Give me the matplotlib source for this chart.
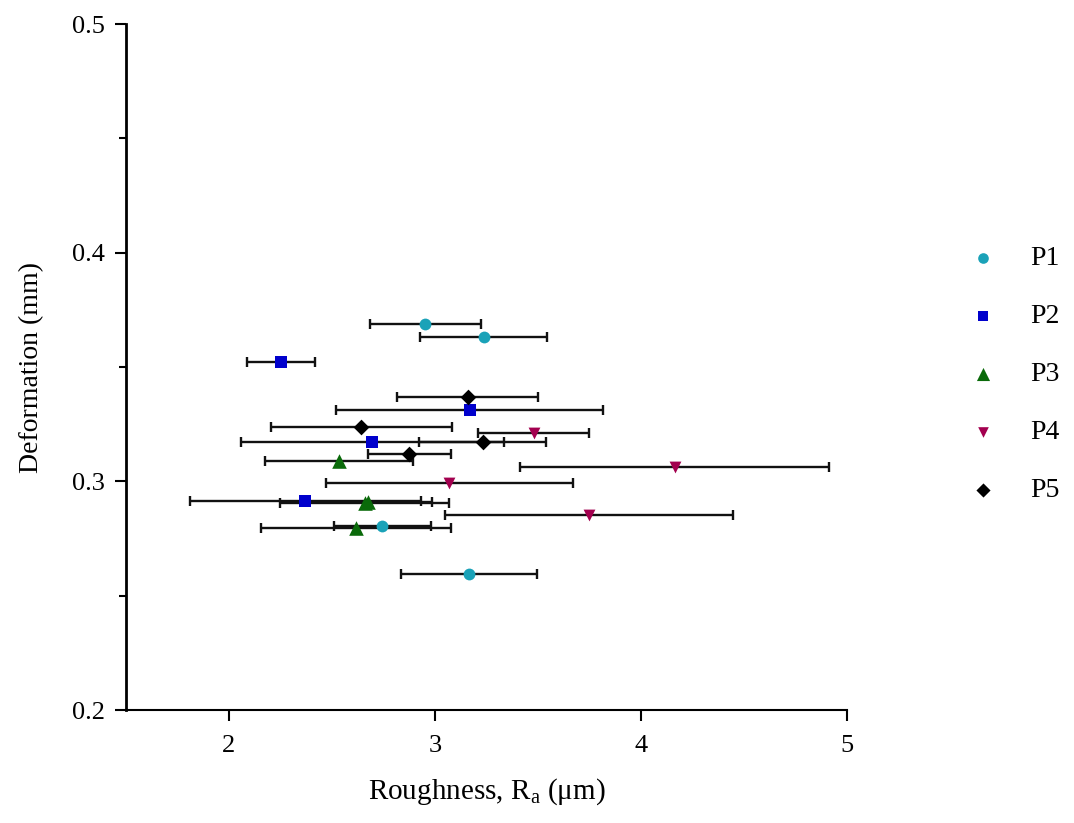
import matplotlib.pyplot as plt

plt.rcParams['font.family'] = ['Liberation Serif', 'DejaVu Serif']
plt.rcParams['mathtext.fontset'] = 'custom'
plt.rcParams['mathtext.rm'] = 'Liberation Serif'

# roughness Ra (um), its error, deformation (mm) for each group
p1_x = [2.954, 3.236, 2.745, 3.163]
p1_err = [0.27, 0.31, 0.234, 0.33]
p1_y = [0.369, 0.363, 0.2805, 0.2595]

p2_x = [2.253, 3.168, 2.696, 2.37]
p2_err = [0.165, 0.65, 0.64, 0.56]
p2_y = [0.3522, 0.3312, 0.3172, 0.2914]

p3_x = [2.535, 2.66, 2.675, 2.618]
p3_err = [0.36, 0.41, 0.31, 0.462]
p3_y = [0.309, 0.2905, 0.291, 0.2795]

p4_x = [3.479, 4.165, 3.07, 3.747]
p4_err = [0.27, 0.75, 0.60, 0.70]
p4_y = [0.3212, 0.3063, 0.2993, 0.2853]

p5_x = [3.158, 2.642, 3.231, 2.876]
p5_err = [0.34, 0.44, 0.31, 0.20]
p5_y = [0.3369, 0.3238, 0.3172, 0.312]

y_ticks = [0.2, 0.3, 0.4, 0.5]
y_minor = [0.25, 0.35, 0.45]

series = [
    ("P1", p1_x, p1_err, p1_y, "o", "#1aa2b8", 8.5),
    ("P2", p2_x, p2_err, p2_y, "s", "#0000cc", 8),
    ("P3", p3_x, p3_err, p3_y, "^", "#0a6a0a", 10.5),
    ("P4", p4_x, p4_err, p4_y, "v", "#a3004f", 8.5),
    ("P5", p5_x, p5_err, p5_y, "D", "black", 8),
]

fig = plt.figure(figsize=(10.74, 8.23), dpi=100)
ax = fig.add_axes([0.1173, 0.1373, 0.6713, 0.8335])

handles = []
for name, x, err, y, m, c, ms in series:
    ax.errorbar(x, y, xerr=err, fmt="none", ecolor="#111111", elinewidth=1.7,
                capsize=3.5, capthick=1.7, zorder=2)
    h = ax.scatter(x, y, marker=m, color=c, s=ms**2, zorder=3, label=name,
                   linewidths=0)
    handles.append(h)

ax.set_xlim(1.5, 5)
ax.set_ylim(0.2, 0.5)
ax.set_xticks([2, 3, 4, 5])
ax.set_yticks(y_ticks)
ax.set_yticks(y_minor, minor=True)
ax.set_yticklabels([str(t) for t in y_ticks])
ax.spines["top"].set_visible(False)
ax.spines["right"].set_visible(False)
ax.spines["left"].set_linewidth(2)
ax.spines["bottom"].set_linewidth(1.5)
ax.tick_params(axis="both", which="major", length=8, width=1.5, labelsize=19,
               direction="out")
ax.tick_params(axis="x", which="major", pad=10)
ax.tick_params(axis="y", which="major", pad=7)
ax.tick_params(axis="y", which="minor", length=5, width=1.5, direction="out")

ax.set_xlabel("Roughness, R$_\\mathrm{a}$ (\u03bcm)", fontsize=21, labelpad=14)
ax.set_ylabel("Deformation (mm)", fontsize=20, labelpad=20)

fig.legend(handles=handles, loc="center left", bbox_to_anchor=(0.866, 0.545),
           frameon=False, fontsize=20, labelspacing=1.17, handletextpad=0.7,
           markerscale=0.9, scatterpoints=1)

fig.savefig("out.png", dpi=100)
